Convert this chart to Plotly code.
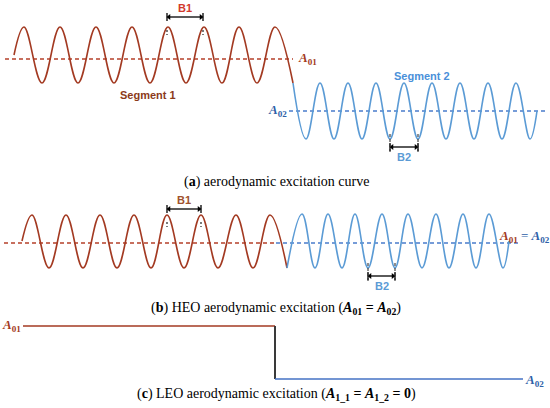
import plotly.graph_objects as go

# drawing units: x to the right, y downwards (same scale as the 550 x 408 picture)
RED = "#A33A22"
RED_DASH = "#B5402A"
BLUE = "#5B9BD5"
BLUE_DASH = "#4A7CCB"

# (a) aerodynamic excitation curve: segment 1 (red) then segment 2 (blue)
a1_peaks = [24, 60, 96, 132, 168, 204, 239, 275]
a1_troughs = [42, 78, 114, 150, 186, 222, 257, 293]
a1_levels = [27, 55, 83]          # peak, centre, trough
a1_start = 14
a1_mean = [5, 293, 59]            # x from, x to, level

a2_peaks = [293, 320, 348, 376, 404, 432, 460, 488, 516]
a2_troughs = [306, 334, 362, 390, 418, 446, 474, 502, 530]
a2_levels = [83, 111, 139]
a2_end = 537
a2_mean = [289, 547, 111]

# (b) HEO aerodynamic excitation, both segments on the same mean level
b1_peaks = [32, 66, 100, 134, 167, 201, 236, 270]
b1_troughs = [49, 83, 117, 151, 184, 218, 253, 287]
b1_levels = [215, 241, 268]
b1_start = 22
b1_mean = [4, 276, 243]

b2_peaks = [302, 328, 355, 382, 408, 436, 463, 489]
b2_troughs = [287, 315, 342, 368, 395, 422, 449, 476, 503]
b2_levels = [214, 241, 268]
b2_end = 509
b2_mean = [276, 518, 243]

# (c) LEO aerodynamic excitation: step between the two mean levels
c_x = [23, 275, 523]
c_levels = [326, 379]

# B1 / B2 period markers: x from, x to, y, label, colour, label y, marked at
brackets = [
    [167, 203, 17, "B1", "#D23A2C", 8, "peak"],
    [390, 418, 147, "B2", "#5B9BD5", 157, "trough"],
    [167, 201, 209, "B1", "#A0522D", 200, "peak"],
    [368, 395, 276, "B2", "#5B9BD5", 286, "trough"],
]

captions = [
    ["(<b>a</b>) aerodynamic excitation curve", 182],
    ["(<b>b</b>) HEO aerodynamic excitation (<b><i>A</i><sub>01</sub> = <i>A</i><sub>02</sub></b>)", 308],
    ["(<b>c</b>) LEO aerodynamic excitation (<b><i>A</i><sub>1_1</sub> = <i>A</i><sub>1_2</sub> = 0</b>)", 394],
]


def wave(peaks, troughs, levels, start=None, end=None):
    pts = [(x, levels[0]) for x in peaks] + [(x, levels[2]) for x in troughs]
    if start is not None:
        pts.append((start, levels[1]))
    if end is not None:
        pts.append((end, levels[1]))
    pts.sort()
    return [p[0] for p in pts], [p[1] for p in pts]


fig = go.Figure()


def add_wave(peaks, troughs, levels, color, start=None, end=None):
    x, y = wave(peaks, troughs, levels, start, end)
    fig.add_trace(go.Scatter(
        x=x, y=y, mode="lines",
        line=dict(color=color, width=1.6, shape="spline", smoothing=1.1),
    ))


def add_mean(mean, color):
    fig.add_trace(go.Scatter(
        x=[mean[0], mean[1]], y=[mean[2], mean[2]], mode="lines",
        line=dict(color=color, width=1.5, dash="4px,3px"),
    ))


add_mean(a1_mean, RED_DASH)
add_mean(a2_mean, BLUE_DASH)
add_mean(b1_mean, RED_DASH)
add_mean(b2_mean, BLUE_DASH)

add_wave(a1_peaks, a1_troughs, a1_levels, RED, start=a1_start)
add_wave(a2_peaks, a2_troughs, a2_levels, BLUE, end=a2_end)
add_wave(b1_peaks, b1_troughs, b1_levels, RED, start=b1_start)
add_wave(b2_peaks, b2_troughs, b2_levels, BLUE, end=b2_end)

# step curve of panel (c)
fig.add_trace(go.Scatter(x=[c_x[0], c_x[1]], y=[c_levels[0], c_levels[0]], mode="lines",
                         line=dict(color=RED, width=1.6)))
fig.add_trace(go.Scatter(x=[c_x[1], c_x[1]], y=[c_levels[0], c_levels[1]], mode="lines",
                         line=dict(color="#3A3A3A", width=2)))
fig.add_trace(go.Scatter(x=[c_x[1], c_x[2]], y=[c_levels[1], c_levels[1]], mode="lines",
                         line=dict(color="#4472C4", width=1.6)))

for x0, x1, y, name, color, ty, kind in brackets:
    fig.add_trace(go.Scatter(
        x=[x0 + 2, x1 - 2], y=[y, y], mode="lines+markers",
        line=dict(color="black", width=1.3),
        marker=dict(symbol=["triangle-left", "triangle-right"], size=5, color="black"),
    ))
    fig.add_trace(go.Scatter(
        x=[x0, x0, None, x1, x1], y=[y - 4, y + 4, None, y - 4, y + 4], mode="lines",
        line=dict(color="black", width=1.3),
    ))
    if kind == "peak":
        # little dotted marks just under the peaks
        fig.add_trace(go.Scatter(
            x=[x0, x0, None, x1, x1], y=[y + 13, y + 18, None, y + 13, y + 18], mode="lines",
            line=dict(color="#333333", width=1.3, dash="2px,2px"),
        ))
    else:
        fig.add_trace(go.Scatter(
            x=[x0, x0, None, x1, x1], y=[y - 13, y + 6, None, y - 13, y + 6], mode="lines",
            line=dict(color="#333333", width=1.1, dash="3px,2px"),
        ))
    fig.add_annotation(x=(x0 + x1) / 2, y=ty, text="<b>%s</b>" % name, showarrow=False,
                       font=dict(family="Liberation Sans", size=11, color=color))

lab = dict(family="Liberation Serif", size=13)
fig.add_annotation(x=296, y=58, text="<b><i>A</i><sub>01</sub></b>", showarrow=False,
                   xanchor="left", font=dict(lab, color=RED))
fig.add_annotation(x=289, y=110, text="<b><i>A</i><sub>02</sub></b>", showarrow=False,
                   xanchor="right", font=dict(lab, color="#2E5FA8"))
fig.add_annotation(x=497, y=236,
                   text="<b><i>A</i><sub>01</sub></b>"
                        "<span style='color:#2E5FA8'> = <b><i>A</i><sub>02</sub></b></span>",
                   showarrow=False, xanchor="left", font=dict(lab, color=RED))
fig.add_annotation(x=23, y=325, text="<b><i>A</i><sub>01</sub></b>", showarrow=False,
                   xanchor="right", font=dict(lab, color=RED))
fig.add_annotation(x=523, y=380, text="<b><i>A</i><sub>02</sub></b>", showarrow=False,
                   xanchor="left", font=dict(lab, color="#2E5FA8"))

seg = dict(family="Liberation Sans", size=11)
fig.add_annotation(x=148, y=95, text="<b>Segment 1</b>", showarrow=False,
                   font=dict(seg, color="#8B3A1A"))
fig.add_annotation(x=422, y=76, text="<b>Segment 2</b>", showarrow=False,
                   font=dict(seg, color="#4A90D9"))

for text, y in captions:
    fig.add_annotation(x=276, y=y, text=text, showarrow=False,
                       font=dict(family="Liberation Serif", size=14, color="black"))

fig.update_layout(
    width=550, height=408,
    margin=dict(l=0, r=0, t=0, b=0),
    paper_bgcolor="white", plot_bgcolor="white",
    showlegend=False,
    xaxis=dict(range=[0, 550], visible=False, fixedrange=True),
    yaxis=dict(range=[408, 0], visible=False, fixedrange=True),
)

# the page's default body margin would push the figure 8px off the window
fig.write_html("out.html", config={"displayModeBar": False},
               post_script="document.body.style.margin = '0px';")
